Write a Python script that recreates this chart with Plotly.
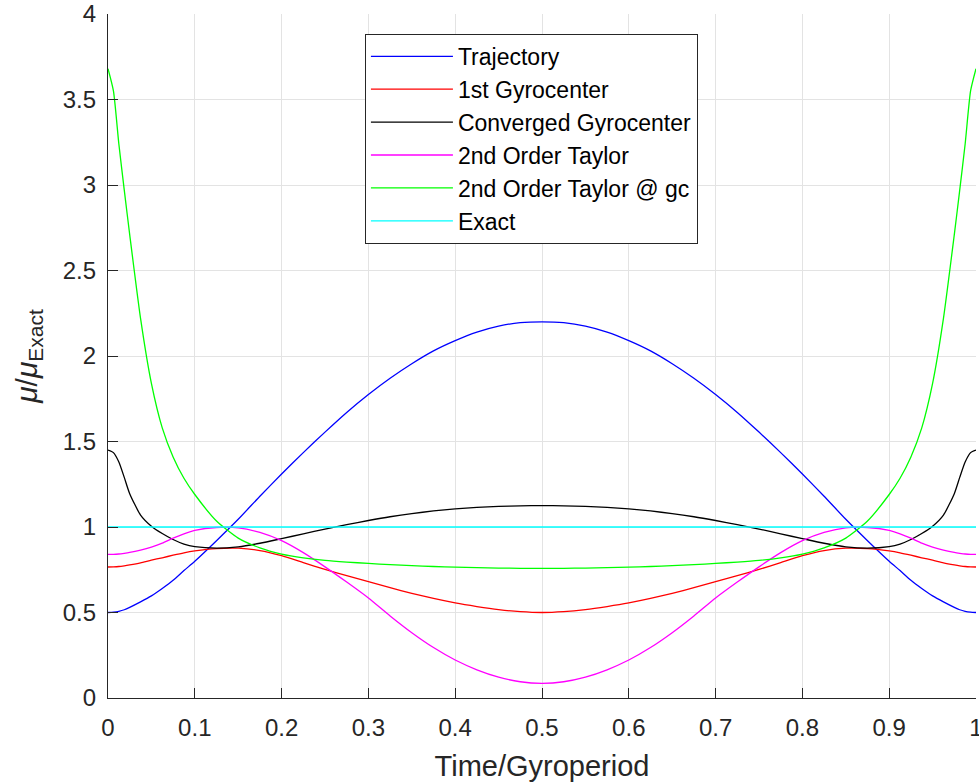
import plotly.graph_objects as go

t = [0, 0.00625, 0.0125, 0.01875, 0.025, 0.0375, 0.05, 0.0625, 0.075, 0.0875, 0.1,
     0.125, 0.15, 0.175, 0.2, 0.225, 0.25, 0.275, 0.3, 0.325, 0.35, 0.375, 0.4, 0.425, 0.45, 0.475, 0.5,
     0.525, 0.55, 0.575, 0.6, 0.625, 0.65, 0.675, 0.7, 0.725, 0.75, 0.775, 0.8, 0.825, 0.85, 0.875,
     0.9, 0.9125, 0.925, 0.9375, 0.95, 0.9625, 0.975, 0.98125, 0.9875, 0.99375, 1.0]

trajectory = [0.50, 0.502, 0.507, 0.516, 0.53, 0.562, 0.597, 0.64, 0.688, 0.745, 0.80,
              0.92, 1.045, 1.18, 1.31, 1.435, 1.555, 1.67, 1.775, 1.87, 1.955, 2.03, 2.09, 2.14, 2.175, 2.195, 2.20,
              2.195, 2.175, 2.14, 2.09, 2.03, 1.955, 1.87, 1.775, 1.67, 1.555, 1.435, 1.31, 1.18, 1.045, 0.92,
              0.80, 0.745, 0.688, 0.64, 0.597, 0.562, 0.53, 0.516, 0.507, 0.502, 0.50]

first_gc = [0.766, 0.767, 0.769, 0.773, 0.778, 0.79, 0.806, 0.82, 0.835, 0.849, 0.86,
            0.874, 0.876, 0.862, 0.832, 0.792, 0.752, 0.715, 0.68, 0.645, 0.612, 0.582, 0.556, 0.535, 0.517, 0.505, 0.50,
            0.505, 0.517, 0.535, 0.556, 0.582, 0.612, 0.645, 0.68, 0.715, 0.752, 0.792, 0.832, 0.862, 0.876, 0.874,
            0.86, 0.849, 0.835, 0.82, 0.806, 0.79, 0.778, 0.773, 0.769, 0.767, 0.766]

converged_gc = [1.45, 1.435, 1.38, 1.29, 1.195, 1.07, 1.005, 0.962, 0.927, 0.9, 0.885,
                0.876, 0.884, 0.905, 0.932, 0.96, 0.988, 1.014, 1.038, 1.06, 1.078, 1.094, 1.106, 1.115, 1.121, 1.124, 1.125,
                1.124, 1.121, 1.115, 1.106, 1.094, 1.078, 1.06, 1.038, 1.014, 0.988, 0.96, 0.932, 0.905, 0.884, 0.876,
                0.885, 0.9, 0.927, 0.962, 1.005, 1.07, 1.195, 1.29, 1.38, 1.435, 1.45]

taylor2 = [0.84, 0.84, 0.842, 0.846, 0.851, 0.865, 0.883, 0.906, 0.935, 0.96, 0.98,
           0.997, 0.995, 0.968, 0.92, 0.85, 0.767, 0.678, 0.585, 0.48, 0.382, 0.295, 0.222, 0.165, 0.122, 0.095, 0.086,
           0.095, 0.122, 0.165, 0.222, 0.295, 0.382, 0.48, 0.585, 0.678, 0.767, 0.85, 0.92, 0.968, 0.995, 0.997,
           0.98, 0.96, 0.935, 0.906, 0.883, 0.865, 0.851, 0.846, 0.842, 0.84, 0.84]

taylor2_gc = [3.68, 3.55, 3.24, 2.97, 2.71, 2.22, 1.84, 1.58, 1.41, 1.285, 1.19,
              1.035, 0.935, 0.878, 0.842, 0.82, 0.805, 0.795, 0.787, 0.78, 0.774, 0.769, 0.765, 0.762, 0.76, 0.758, 0.758,
              0.758, 0.76, 0.762, 0.765, 0.769, 0.774, 0.78, 0.787, 0.795, 0.805, 0.82, 0.842, 0.878, 0.935, 1.035,
              1.19, 1.285, 1.41, 1.58, 1.84, 2.22, 2.71, 2.97, 3.24, 3.55, 3.68]

exact = [1.0] * len(t)

series = [
    ("Trajectory", trajectory, "#0000ff"),
    ("1st Gyrocenter", first_gc, "#ff0000"),
    ("Converged Gyrocenter", converged_gc, "#000000"),
    ("2nd Order Taylor", taylor2, "#ff00ff"),
    ("2nd Order Taylor @ gc", taylor2_gc, "#00ff00"),
    ("Exact", exact, "#00ffff"),
]

x_ticks = [0, 0.1, 0.2, 0.3, 0.4, 0.5, 0.6, 0.7, 0.8, 0.9, 1]
x_labels = ["0", "0.1", "0.2", "0.3", "0.4", "0.5", "0.6", "0.7", "0.8", "0.9", "1"]
y_ticks = [0, 0.5, 1, 1.5, 2, 2.5, 3, 3.5, 4]
y_labels = ["0", "0.5", "1", "1.5", "2", "2.5", "3", "3.5", "4"]

fig = go.Figure()
for name, y, color in series:
    fig.add_trace(go.Scatter(x=t, y=y, mode="lines", name=name, legendgroup=name,
                             line=dict(color=color, width=1.3, shape="spline", smoothing=0.6)))

font_family = "Liberation Sans, Arial, sans-serif"
fig.update_layout(
    width=979, height=783,
    margin=dict(l=108, r=3, t=14, b=85, autoexpand=False),
    paper_bgcolor="white", plot_bgcolor="white",
    font=dict(family=font_family, size=24, color="#262626"),
    showlegend=True,
    legend=dict(x=0.296, y=0.971, xanchor="left", yanchor="top",
                bgcolor="white", bordercolor="#262626", borderwidth=1,
                font=dict(family=font_family, size=23, color="#000000"),
                itemwidth=82, tracegroupgap=0),
)
fig.update_xaxes(range=[0, 1], tickvals=x_ticks, ticktext=x_labels, automargin=False,
                 ticklabeloverflow="allow", ticklabelstandoff=8,
                 showgrid=True, gridcolor="#e3e3e3", gridwidth=1,
                 showline=True, linecolor="#262626", linewidth=1.3,
                 ticks="inside", ticklen=10, tickcolor="#262626", tickwidth=1.3,
                 zeroline=False,
                 title=dict(text="Time/Gyroperiod", font=dict(size=29, color="#262626"), standoff=15))
fig.update_yaxes(range=[0, 4], tickvals=y_ticks, ticktext=y_labels, automargin=False,
                 ticklabeloverflow="allow", ticklabelstandoff=6,
                 showgrid=True, gridcolor="#e3e3e3", gridwidth=1,
                 showline=True, linecolor="#262626", linewidth=1.3,
                 ticks="inside", ticklen=10, tickcolor="#262626", tickwidth=1.3,
                 zeroline=False,
                 title=dict(text="<i>μ</i>/<i>μ</i><sub>Exact</sub>", font=dict(size=30, color="#262626"), standoff=16))

fig.write_html("out.html", config={"displayModeBar": False},
               post_script="document.body.style.margin='0';")
